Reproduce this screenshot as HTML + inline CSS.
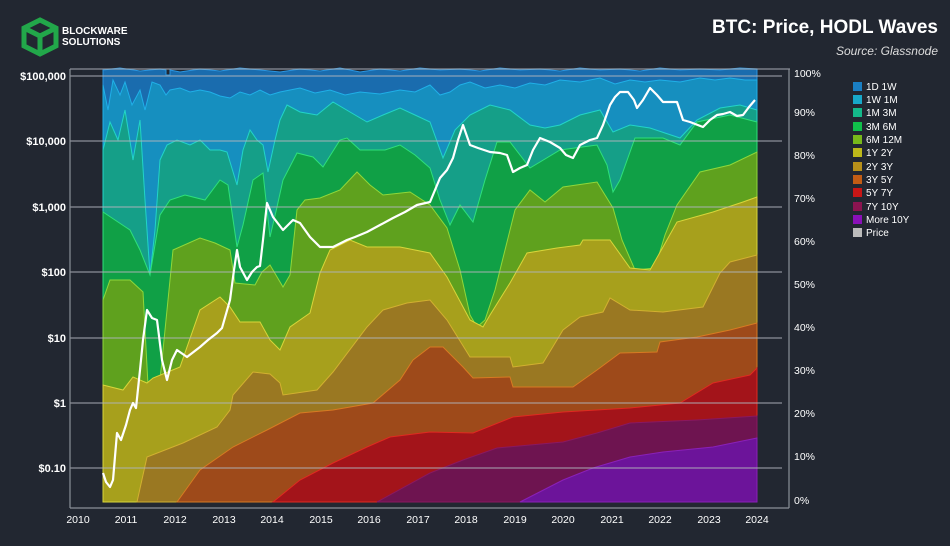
<!DOCTYPE html>
<html><head><meta charset="utf-8"><style>
body{margin:0;background:#222731;}
svg{display:block;font-family:"Liberation Sans",sans-serif;}
</style></head><body>
<svg width="950" height="546" viewBox="0 0 950 546" xmlns="http://www.w3.org/2000/svg">
<rect width="950" height="546" fill="#222731"/>
<g fill="none" stroke="#22a74a" stroke-width="5">
<polygon points="40,20 56,28 56,46 40,54 24,46 24,28"/>
<line x1="40" y1="36" x2="40" y2="54"/><line x1="24" y1="28" x2="40" y2="36"/><line x1="56" y1="28" x2="40" y2="36"/>
</g>
<text x="62" y="34" fill="#fff" font-size="10" font-weight="bold">BLOCKWARE</text>
<text x="62" y="45" fill="#fff" font-size="10" font-weight="bold">SOLUTIONS</text>
<text x="938" y="33" fill="#fff" font-size="19" font-weight="bold" text-anchor="end">BTC: Price, HODL Waves</text>
<text x="938" y="55" fill="#ddd" font-size="12" font-style="italic" text-anchor="end">Source: Glassnode</text>

<g stroke-width="1">
<polygon fill="#1a6cae" stroke="#2a95e0" points="103,502 103,70 120,68 140,71 160,69 166,70 166,75 170,75 170,70 180,72 200,69 220,71 240,68 260,70 280,72 300,69 320,71 340,68 360,72 380,69 400,71 420,68 440,70 460,69 480,71 500,68 520,70 540,69 560,71 580,68 600,70 620,69 640,71 660,68 680,70 700,69 720,70 740,68 757,69 757,502"/>
<polygon fill="#168fbf" stroke="#20b0e8" points="103,502 103,85 108,110 113,80 120,95 125,82 132,105 140,90 145,110 152,82 160,85 166,95 170,90 180,88 190,92 200,90 210,92 220,96 230,98 240,92 250,95 260,90 270,95 280,92 300,88 315,93 330,90 345,95 360,92 380,94 400,90 415,92 430,85 440,95 450,92 460,85 470,82 485,88 500,85 515,88 530,83 545,85 560,80 580,82 600,78 615,84 630,80 645,82 660,80 680,82 700,78 715,80 730,78 745,80 757,80 757,502"/>
<polygon fill="#159f88" stroke="#22d4c8" points="103,502 103,150 110,122 118,140 125,110 133,160 140,120 145,200 150,275 155,230 160,160 167,145 177,140 190,145 200,140 210,150 220,150 227,152 237,185 243,150 250,130 257,140 263,145 268,172 275,140 280,120 287,105 300,112 317,115 333,102 350,112 367,122 383,115 400,108 415,115 430,122 443,158 455,130 470,115 490,105 510,110 530,125 545,128 560,125 580,115 600,110 613,132 630,125 650,128 680,138 697,120 720,108 740,105 757,110 757,502"/>
<polygon fill="#10a046" stroke="#2ee07a" points="103,502 103,212 115,220 130,230 140,250 150,275 160,215 170,200 185,195 205,200 220,180 228,185 237,247 243,225 253,180 263,173 270,237 277,207 283,180 297,153 313,157 323,167 340,140 347,138 360,150 385,150 400,145 415,155 430,168 440,200 450,225 460,205 473,222 485,180 497,142 510,142 530,168 560,150 597,145 607,165 613,192 620,180 635,138 663,138 680,145 697,122 730,115 757,122 757,502"/>
<polygon fill="#5fa11e" stroke="#8fd83a" points="103,502 103,300 110,280 130,280 143,292 148,385 160,380 168,300 173,250 200,238 215,243 230,250 235,283 255,285 262,272 270,265 283,287 290,275 297,210 305,200 320,198 340,190 357,172 370,185 383,195 410,192 430,205 447,228 460,270 470,315 477,327 485,320 495,290 505,250 515,210 530,190 545,202 563,187 597,182 613,208 622,240 635,270 655,268 665,235 677,205 700,172 730,165 757,152 757,502"/>
<polygon fill="#a7a01c" stroke="#d8d63a" points="103,502 103,385 123,390 133,377 147,383 153,378 180,367 200,310 220,297 230,307 240,322 260,322 270,340 280,350 290,327 310,313 320,273 330,250 350,240 367,247 400,247 430,253 447,277 470,320 483,327 490,315 510,283 527,253 557,248 580,245 583,240 610,240 630,268 650,270 663,247 677,222 713,212 743,202 757,197 757,502"/>
<polygon fill="#9a7822" stroke="#d2b030" points="137,502 147,457 183,443 217,427 230,410 233,395 253,372 270,374 280,383 283,395 317,390 333,372 367,327 383,310 407,303 430,300 447,320 470,357 510,357 513,367 543,363 563,330 580,317 603,312 610,298 630,310 663,312 703,307 720,273 730,262 757,255 757,502"/>
<polygon fill="#9e4a1a" stroke="#d87a22" points="177,502 200,470 233,447 267,430 300,413 333,410 373,403 400,380 413,360 430,347 443,347 463,367 473,378 510,377 513,387 573,387 597,370 620,353 657,352 660,342 697,337 730,330 757,323 757,502"/>
<polygon fill="#a3141a" stroke="#e02a20" points="273,502 300,480 333,463 367,447 390,437 430,432 473,433 513,417 563,412 630,408 680,403 713,383 750,375 757,368 757,502"/>
<polygon fill="#6e1450" stroke="#8a1860" points="377,502 430,473 463,460 497,448 563,442 597,433 630,423 697,420 757,416 757,502"/>
<polygon fill="#6c149a" stroke="#8a20b8" points="520,502 563,480 593,468 630,457 663,452 713,447 757,438 757,502"/>
</g>

<g stroke="#b0b4bb" stroke-width="1.2" opacity="0.75">
<line x1="70" y1="69" x2="790" y2="69"/>
<line x1="70" y1="76" x2="782" y2="76"/><line x1="70" y1="141" x2="782" y2="141"/>
<line x1="70" y1="207" x2="782" y2="207"/><line x1="70" y1="272" x2="782" y2="272"/>
<line x1="70" y1="338" x2="782" y2="338"/><line x1="70" y1="403" x2="782" y2="403"/>
<line x1="70" y1="468" x2="782" y2="468"/>
</g>
<g stroke="#8a8f98" stroke-width="1.2">
<line x1="70" y1="69" x2="70" y2="508"/><line x1="789" y1="69" x2="789" y2="508"/>
<line x1="70" y1="508" x2="789" y2="508"/>
</g>

<polyline fill="none" stroke="#fff" stroke-width="2.2" stroke-linejoin="round" points="103,473 106,482 110,487 113,480 117,433 121,440 126,425 130,410 133,403 136,408 140,370 143,340 147,310 152,318 157,320 162,360 167,380 172,360 177,350 187,357 200,347 208,340 217,333 222,328 230,300 234,270 237,250 240,267 247,280 252,272 257,267 260,266 263,240 267,203 273,217 283,230 293,220 300,223 310,237 320,247 333,247 347,240 355,237 367,232 380,225 393,218 405,212 417,205 430,202 440,178 447,170 453,158 458,140 463,125 470,145 478,148 490,152 500,153 507,155 513,172 520,168 527,165 533,150 540,138 550,142 560,148 566,155 573,158 580,145 590,140 597,138 603,125 610,105 615,97 620,92 628,92 634,100 637,108 643,100 650,88 657,95 663,102 670,102 677,102 683,120 690,122 703,127 710,120 717,115 723,114 730,112 737,116 743,115 749,107 755,100"/>

<g fill="#fff" font-size="11" font-weight="bold" text-anchor="end">
<text x="66" y="80">$100,000</text><text x="66" y="145">$10,000</text><text x="66" y="211">$1,000</text>
<text x="66" y="276">$100</text><text x="66" y="342">$10</text><text x="66" y="407">$1</text><text x="66" y="472">$0.10</text>
</g>
<g fill="#fff" font-size="10.5">
<text x="794" y="77">100%</text><text x="794" y="116">90%</text><text x="794" y="159">80%</text>
<text x="794" y="202">70%</text><text x="794" y="245">60%</text><text x="794" y="288">50%</text>
<text x="794" y="331">40%</text><text x="794" y="374">30%</text><text x="794" y="417">20%</text>
<text x="794" y="460">10%</text><text x="794" y="504">0%</text>
</g>
<g fill="#fff" font-size="10.5" text-anchor="middle">
<text x="78" y="523">2010</text><text x="126" y="523">2011</text><text x="175" y="523">2012</text><text x="224" y="523">2013</text>
<text x="272" y="523">2014</text><text x="321" y="523">2015</text><text x="369" y="523">2016</text><text x="418" y="523">2017</text>
<text x="466" y="523">2018</text><text x="515" y="523">2019</text><text x="563" y="523">2020</text><text x="612" y="523">2021</text>
<text x="660" y="523">2022</text><text x="709" y="523">2023</text><text x="757" y="523">2024</text>
</g>
<g font-size="10" fill="#fff">
<rect x="853" y="82" width="9" height="9" fill="#1a7fc4"/><text x="866" y="90">1D 1W</text>
<rect x="853" y="95" width="9" height="9" fill="#17a8c9"/><text x="866" y="103">1W 1M</text>
<rect x="853" y="108" width="9" height="9" fill="#14b98a"/><text x="866" y="116">1M 3M</text>
<rect x="853" y="122" width="9" height="9" fill="#10bf4a"/><text x="866" y="130">3M 6M</text>
<rect x="853" y="135" width="9" height="9" fill="#78b81a"/><text x="866" y="143">6M 12M</text>
<rect x="853" y="148" width="9" height="9" fill="#bdb81a"/><text x="866" y="156">1Y 2Y</text>
<rect x="853" y="162" width="9" height="9" fill="#b8901a"/><text x="866" y="170">2Y 3Y</text>
<rect x="853" y="175" width="9" height="9" fill="#c25c14"/><text x="866" y="183">3Y 5Y</text>
<rect x="853" y="188" width="9" height="9" fill="#c81616"/><text x="866" y="196">5Y 7Y</text>
<rect x="853" y="202" width="9" height="9" fill="#8a1450"/><text x="866" y="210">7Y 10Y</text>
<rect x="853" y="215" width="9" height="9" fill="#8a10b8"/><text x="866" y="223">More 10Y</text>
<rect x="853" y="228" width="9" height="9" fill="#bbbbbb"/><text x="866" y="236">Price</text>
</g>
</svg>
</body></html>
